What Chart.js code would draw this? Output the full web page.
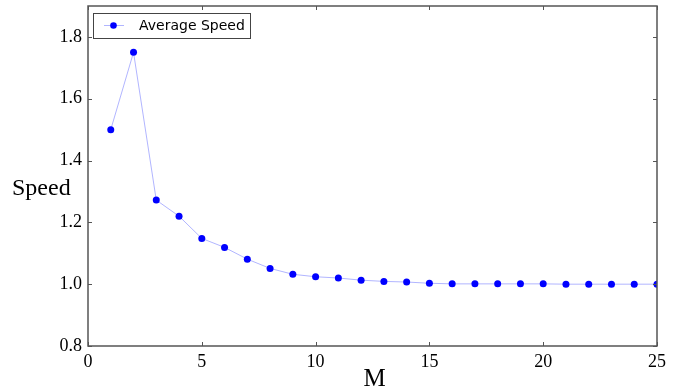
<!DOCTYPE html>
<html>
<head>
<meta charset="utf-8">
<script src="https://cdn.jsdelivr.net/npm/chart.js@4/dist/chart.umd.min.js"></script>
<style>
  html, body { margin: 0; padding: 0; background: #fff; }
  #wrap { width: 684px; height: 392px; }
</style>
</head>
<body>
<div id="wrap"><canvas id="speedChart" width="684" height="392"></canvas></div>
<script>
// data
const mValues = [1, 2, 3, 4, 5, 6, 7, 8, 9, 10, 11, 12, 13, 14, 15, 16, 17, 18, 19, 20, 21, 22, 23, 24, 25];
const avgSpeed = [1.50, 1.75, 1.272, 1.22, 1.148, 1.119, 1.081, 1.051, 1.032, 1.024, 1.020, 1.013, 1.009, 1.007, 1.003,
                  1.001, 1.001, 1.001, 1.001, 1.001, 1.000, 1.000, 1.000, 1.000, 1.000];
const xTicks = [0, 5, 10, 15, 20, 25];
const yTicks = [0.8, 1.0, 1.2, 1.4, 1.6, 1.8];

const serif = '"Liberation Serif", "Times New Roman", serif';
const frameColor = '#555';

// matplotlib-like frame, inward ticks, axis labels and legend box
const framePlugin = {
    id: 'frame',
    afterDraw(chart) {
        const ctx = chart.ctx;
        const a = chart.chartArea;
        const xs = chart.scales.x, ys = chart.scales.y;
        ctx.save();
        ctx.strokeStyle = frameColor;
        ctx.lineWidth = 1.5;
        ctx.strokeRect(a.left, a.top, a.right - a.left, a.bottom - a.top);

        ctx.lineWidth = 1;
        const len = 4;
        ctx.beginPath();
        xTicks.forEach(v => {
            const px = Math.round(xs.getPixelForValue(v)) + 0.5;
            ctx.moveTo(px, a.bottom); ctx.lineTo(px, a.bottom - len);
            ctx.moveTo(px, a.top); ctx.lineTo(px, a.top + len);
        });
        yTicks.forEach(v => {
            const py = Math.round(ys.getPixelForValue(v)) + 0.5;
            ctx.moveTo(a.left, py); ctx.lineTo(a.left + len, py);
            ctx.moveTo(a.right, py); ctx.lineTo(a.right - len, py);
        });
        ctx.stroke();

        // axis labels
        ctx.fillStyle = '#000';
        ctx.font = '24px ' + serif;
        ctx.textBaseline = 'alphabetic';
        ctx.textAlign = 'left';
        ctx.fillText('Speed', 12, 195);
        ctx.textAlign = 'center';
        ctx.font = '25px ' + serif;
        ctx.fillText('M', (a.left + a.right) / 2 + 2, 386);

        // legend
        const ds = chart.data.datasets[0];
        ctx.fillStyle = '#fff';
        ctx.fillRect(93.5, 13.5, 157, 25);
        ctx.strokeStyle = '#444';
        ctx.lineWidth = 1;
        ctx.strokeRect(93.5, 13.5, 157, 25);
        ctx.strokeStyle = ds.borderColor;
        ctx.beginPath();
        ctx.moveTo(104, 25.5); ctx.lineTo(124, 25.5);
        ctx.stroke();
        ctx.fillStyle = ds.pointBackgroundColor;
        ctx.beginPath();
        ctx.arc(113.5, 25.5, 3.3, 0, Math.PI * 2);
        ctx.fill();
        ctx.fillStyle = '#000';
        ctx.font = '14px "DejaVu Sans", sans-serif';
        ctx.textAlign = 'left';
        ctx.textBaseline = 'middle';
        ctx.fillText(ds.label, 139, 26);
        ctx.restore();
    }
};

new Chart(document.getElementById('speedChart').getContext('2d'), {
    type: 'line',
    data: {
        datasets: [{
            label: 'Average Speed',
            data: mValues.map((m, i) => ({ x: m, y: avgSpeed[i] })),
            borderColor: 'rgba(60, 70, 255, 0.4)',
            borderWidth: 1,
            pointBackgroundColor: '#0000ff',
            pointBorderWidth: 0,
            pointRadius: 3.5,
            tension: 0
        }]
    },
    options: {
        responsive: false,
        animation: false,
        layout: { padding: { top: 6, right: 27, left: 0, bottom: 0 } },
        plugins: { legend: { display: false }, tooltip: { enabled: false } },
        scales: {
            x: {
                type: 'linear',
                min: 0, max: 25,
                afterFit(scale) {
                    scale.height = 46;
                    scale.paddingLeft = 0; scale.paddingRight = 0;
                },
                afterBuildTicks(scale) { scale.ticks = xTicks.map(v => ({ value: v })); },
                grid: { display: false, drawTicks: false },
                border: { display: false },
                ticks: { color: '#000', padding: 5, font: { family: serif, size: 18 }, maxRotation: 0 }
            },
            y: {
                min: 0.8, max: 1.9,
                afterFit(scale) {
                    scale.width = 88;
                    scale.paddingTop = 0; scale.paddingBottom = 0;
                },
                afterBuildTicks(scale) { scale.ticks = yTicks.map(v => ({ value: v })); },
                grid: { display: false, drawTicks: false },
                border: { display: false },
                ticks: { color: '#000', padding: 6, font: { family: serif, size: 18 },
                         callback: v => v.toFixed(1) }
            }
        }
    },
    plugins: [framePlugin]
});
</script>
</body>
</html>
